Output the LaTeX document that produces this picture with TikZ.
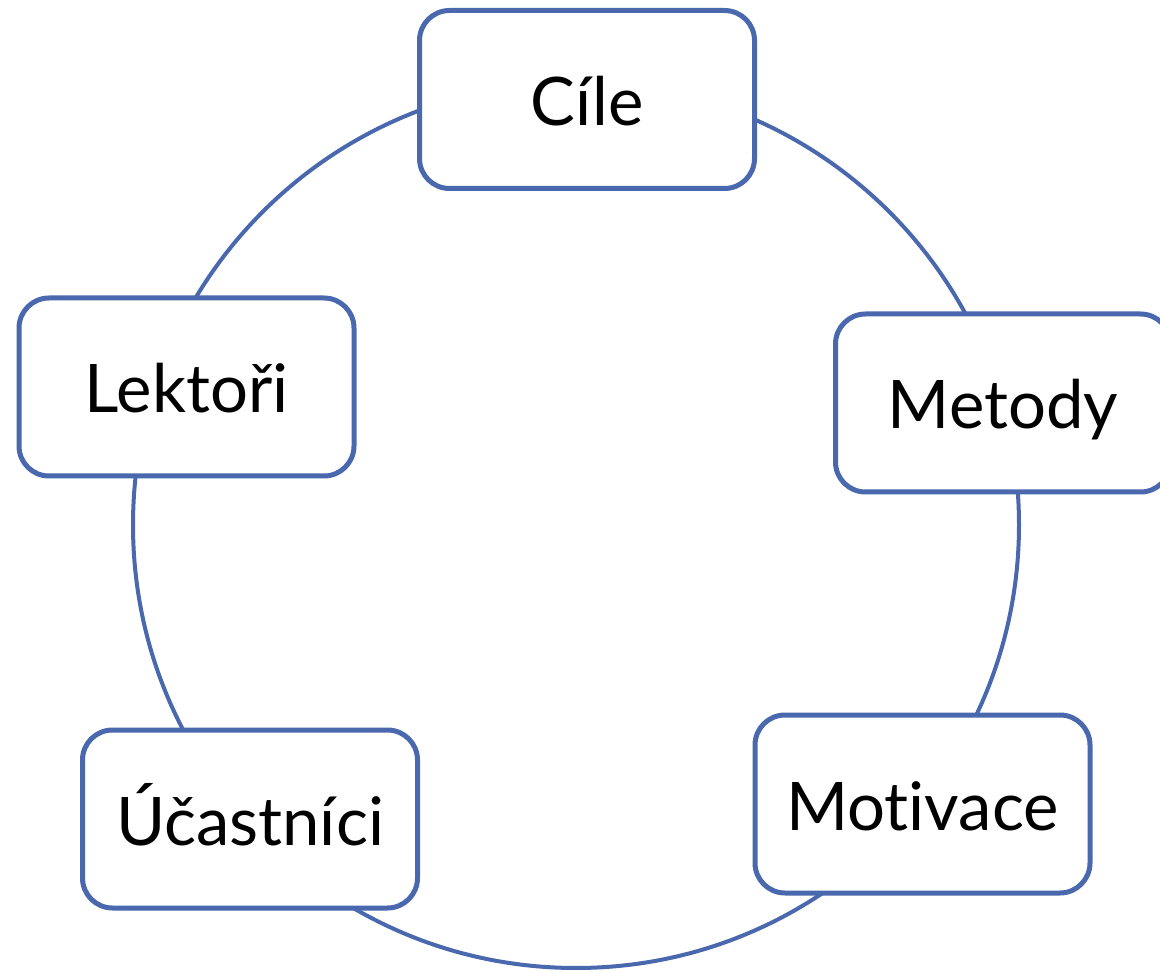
\documentclass[tikz,border=0pt]{standalone}
\usepackage{fontspec}
\setmainfont{Lato}[Ligatures={NoCommon}]
\definecolor{ringblue}{RGB}{74,104,174}
\tikzset{
  topicbox/.style={draw=ringblue, line width=5pt, fill=white, rounded corners=30pt,
    minimum width=335pt, minimum height=178pt, inner sep=0pt},
  topiclabel/.style={anchor=base, inner sep=0pt, font=\fontsize{67}{78}\selectfont},
  ring/.style={draw=ringblue, line width=4pt, circle, minimum size=886pt, inner sep=0pt}
}
\begin{document}
\begin{tikzpicture}[x=1pt, y=-1pt]
  \useasboundingbox (0,0) rectangle (1160,973);
  % the cycle that links all five topics
  \node[ring] (cycle) at (576,525) {};
  % topic boxes placed on the cycle
  \node[topicbox] (cile) at (587,99.5) {};
  \node[topicbox] (metody) at (1003,403) {};
  \node[topicbox] (motivace) at (922.5,804) {};
  \node[topicbox] (ucastnici) at (250,819) {};
  \node[topicbox] (lektori) at (186.5,387) {};
  % labels, baseline set so that capitals sit centred in each box
  \node[topiclabel] at ([yshift=-26pt]cile.center) {Cíle};
  \node[topiclabel] at ([yshift=-26pt]metody.center) {Metody};
  \node[topiclabel] at ([yshift=-26pt]motivace.center) {Motivace};
  \node[topiclabel] at ([yshift=-26pt]ucastnici.center) {Účastníci};
  \node[topiclabel] at ([yshift=-26pt]lektori.center) {Lektoři};
\end{tikzpicture}
\end{document}
